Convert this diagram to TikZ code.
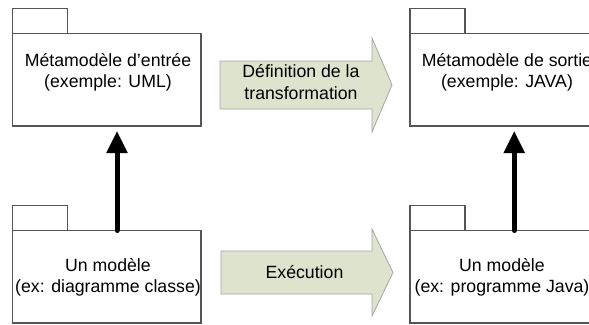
\documentclass[tikz,border=0pt]{standalone}
\usepackage{fontspec}
\setmainfont{Liberation Sans}
\usetikzlibrary{arrows.meta}
\definecolor{boxline}{RGB}{85,85,85}
\definecolor{arrowfill}{RGB}{221,227,205}
\definecolor{arrowline}{RGB}{165,165,165}
\begin{document}
\begin{tikzpicture}[x=1pt,y=-1pt,
  font=\fontsize{17.7}{21.2}\selectfont,
  pkgbody/.style={draw=boxline,line width=1.1pt,rectangle,inner sep=0pt,outer sep=0pt,
    minimum width=188.5pt,minimum height=92.5pt,anchor=north west},
  pkgtab/.style={draw=boxline,line width=1.1pt,rectangle,inner sep=0pt,outer sep=0pt,
    minimum width=55pt,minimum height=25pt,anchor=south west},
  label/.style={align=center,inner sep=0pt},
  blockarrow/.style={draw=arrowline,line width=0.8pt,fill=arrowfill,line join=miter},
  uplink/.style={line width=5pt,line cap=round,
    -{Triangle[length=22pt,width=20pt,line cap=butt]},shorten >=5pt}]
\useasboundingbox (0,0) rectangle (589,324);
\clip (0,0) rectangle (589,324);

% UML packages: body plus tab
\node[pkgbody] (tl) at (12.5,33.5) {};
\node[pkgtab]  (tltab) at (tl.north west) {};
\node[pkgbody] (tr) at (410,33.5) {};
\node[pkgtab]  (trtab) at (tr.north west) {};
\node[pkgbody] (bl) at (12.5,230.5) {};
\node[pkgtab]  (bltab) at (bl.north west) {};
\node[pkgbody] (br) at (410,230.5) {};
\node[pkgtab]  (brtab) at (br.north west) {};

% package captions
\node[label] (tltext) at (108,72) {Métamodèle d’entrée\\(exemple: UML)};
\node[label] (trtext) at (507,72) {Métamodèle de sortie\\(exemple: JAVA)};
\node[label] (bltext) at (108,277.5) {Un modèle\\(ex: diagramme classe)};
\node[label] (brtext) at (502,277.5) {Un modèle\\(ex: programme Java)};

% block arrows between the columns
\draw[blockarrow] (220,61) -- (372,61) -- (372,38) -- (392,85) -- (372,132) -- (372,109) -- (220,109) -- cycle;
\node[label] (deftext) at (301,82) {Définition de la\\transformation};
\draw[blockarrow] (221,251) -- (372,251) -- (372,229) -- (393,272.5) -- (372,316) -- (372,294) -- (221,294) -- cycle;
\node[label] (exetext) at (304.5,272) {Exécution};

% conformance arrows
\draw[uplink] ([xshift=10.25pt]bl.north) -- ([xshift=10.25pt]tl.south);
\draw[uplink] ([xshift=10pt]br.north) -- ([xshift=10pt]tr.south);
\end{tikzpicture}
\end{document}
